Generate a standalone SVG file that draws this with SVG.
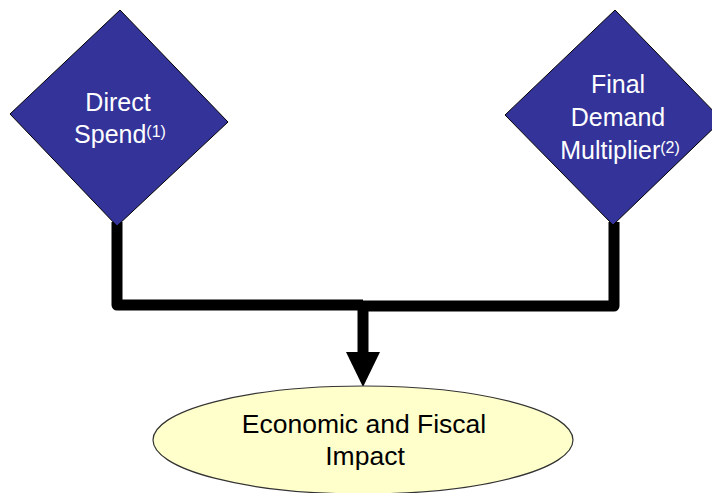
<svg xmlns="http://www.w3.org/2000/svg" width="712" height="493" viewBox="0 0 712 493">
  <style>
    .diamond { fill: #333399; stroke: #000000; stroke-width: 1; }
    .oval { fill: #FFFFCC; stroke: #333333; stroke-width: 1.2; }
    .wtxt { font-family: "Liberation Sans", Arial, sans-serif; font-size: 25px; fill: #FFFFFF; text-anchor: middle; }
    .btxt { font-family: "Liberation Sans", Arial, sans-serif; font-size: 26.5px; fill: #000000; text-anchor: middle; }
    .sup { font-size: 16px; }
    .conn { fill: none; stroke: #000000; stroke-width: 11; stroke-linejoin: round; }
  </style>
  <rect width="712" height="493" fill="#FFFFFF"/>
  <g id="connectors">
    <path class="conn" d="M117,222 V305 H363"/>
    <path class="conn" d="M614,222 V306 H363"/>
    <path class="conn" d="M363,305 V354" stroke-linejoin="miter"/>
    <polygon points="346,352 380,352 363,387" fill="#000000"/>
  </g>
  <g id="direct-spend">
    <polygon class="diamond" points="120,10 228,122 117,226 10,114"/>
    <text class="wtxt"><tspan x="118" y="111">Direct</tspan><tspan x="120" y="143">Spend<tspan class="sup" dy="-6">(1)</tspan></tspan></text>
  </g>
  <g id="final-demand-multiplier">
    <polygon class="diamond" points="615,10 722,120 613,225 505,115"/>
    <text class="wtxt"><tspan x="618" y="93">Final</tspan><tspan x="618" y="126">Demand</tspan><tspan x="620" y="159">Multiplier<tspan class="sup" dy="-6">(2)</tspan></tspan></text>
  </g>
  <g id="economic-fiscal-impact">
    <ellipse class="oval" cx="363" cy="440" rx="210" ry="54"/>
    <text class="btxt"><tspan x="364" y="433">Economic and Fiscal</tspan><tspan x="365" y="465">Impact</tspan></text>
  </g>
</svg>
